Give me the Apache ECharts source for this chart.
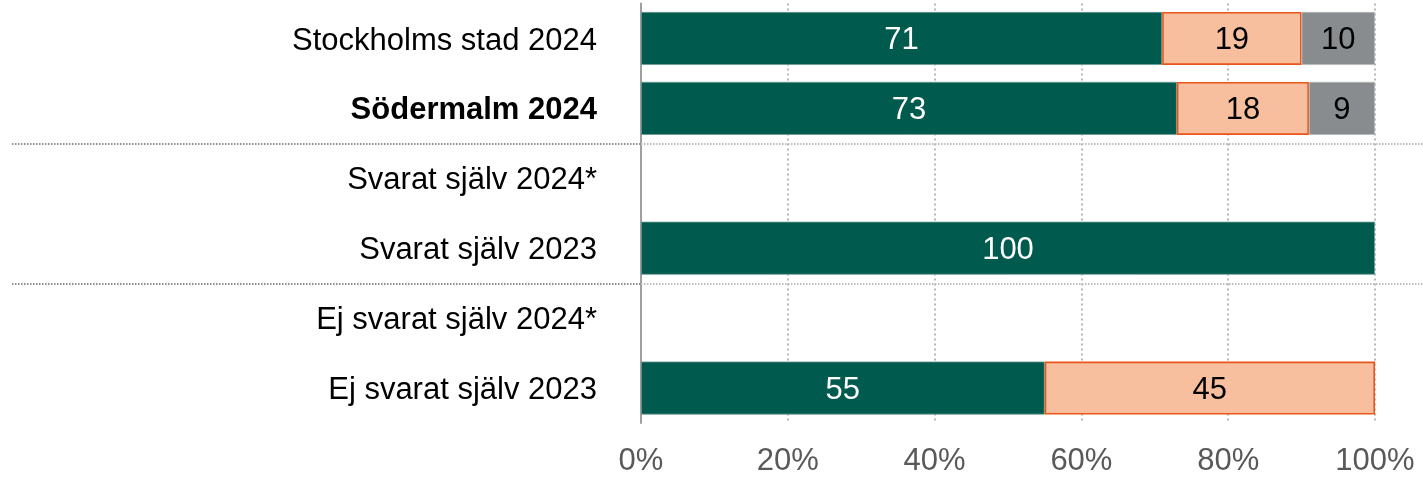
<!DOCTYPE html>
<html>
<head>
<meta charset="utf-8">
<script src="https://cdn.jsdelivr.net/npm/echarts@6/dist/echarts.min.js"></script>
<style>
  html, body { margin: 0; padding: 0; background: #fff; }
  #chart { width: 1423px; height: 477px; }
</style>
</head>
<body>
<div id="chart"></div>
<script>
// Response groups, top to bottom
const categories = [
  'Stockholms stad 2024',
  'Södermalm 2024',
  'Svarat själv 2024*',
  'Svarat själv 2023',
  'Ej svarat själv 2024*',
  'Ej svarat själv 2023'
];
const boldCategory = 'Södermalm 2024';

// Shares in percent (stacked to 100)
const greenValues = [71, 73, null, 100, null, 55];
const orangeValues = [19, 18, null, null, null, 45];
const greyValues = [10, 9, null, null, null, null];

const tickLabels = ['0%', '20%', '40%', '60%', '80%', '100%'];

// Separators sit between these category pairs
const separatorAfter = [1, 3];

const FONT = "'Liberation Sans', Arial, sans-serif";

const chart = echarts.init(document.getElementById('chart'));

function labelStyle(color) {
  return {
    show: true,
    position: 'inside',
    offset: [0, 2],
    color: color,
    fontSize: 31,
    fontFamily: FONT,
    formatter: p => (p.value == null || p.value === 0) ? '' : String(p.value)
  };
}

chart.setOption({
  animation: false,
  grid: { left: 641, right: 48, top: 3.5, bottom: 53.5 },
  xAxis: {
    type: 'value',
    min: 0,
    max: 100,
    interval: 20,
    axisLine: { show: false },
    axisTick: { show: false },
    axisLabel: {
      margin: 23,
      color: '#595959',
      fontSize: 31,
      fontFamily: FONT,
      formatter: v => tickLabels[Math.round(v / 20)]
    },
    splitLine: {
      show: true,
      lineStyle: { color: '#b8b8b8', width: 2, type: [2, 3] }
    }
  },
  yAxis: {
    type: 'category',
    data: categories,
    inverse: true,
    axisLine: { show: true, lineStyle: { color: '#a0a0a0', width: 2 } },
    axisTick: { show: false },
    axisLabel: {
      margin: 44,
      padding: [5, 0, 0, 0],
      color: '#000',
      fontSize: 31,
      fontFamily: FONT,
      formatter: v => v === boldCategory ? '{b|' + v + '}' : v,
      rich: {
        b: { fontWeight: 'bold', fontSize: 31, fontFamily: FONT, color: '#000' }
      }
    }
  },
  series: [
    {
      name: 'green',
      type: 'bar',
      stack: 'total',
      barWidth: 53,
      data: greenValues,
      itemStyle: { color: '#005A4E', borderColor: '#6f9c94', borderWidth: 0.8 },
      label: labelStyle('#ffffff')
    },
    {
      name: 'orange',
      type: 'bar',
      stack: 'total',
      barWidth: 53,
      data: orangeValues,
      itemStyle: { color: '#F8BF9E', borderColor: '#E8561A', borderWidth: 1.6 },
      label: labelStyle('#000000')
    },
    {
      name: 'grey',
      type: 'bar',
      stack: 'total',
      barWidth: 53,
      data: greyValues,
      itemStyle: { color: '#898C8E', borderColor: '#b5b7b8', borderWidth: 0.8 },
      label: labelStyle('#000000')
    }
  ]
});

// Dashed group separators, placed between category bands
function drawSeparators() {
  const x0 = chart.convertToPixel({ xAxisIndex: 0 }, 0);
  const elements = [];
  separatorAfter.forEach(i => {
    const ya = chart.convertToPixel({ yAxisIndex: 0 }, categories[i]);
    const yb = chart.convertToPixel({ yAxisIndex: 0 }, categories[i + 1]);
    const y = Math.round((ya + yb) / 2) + 1;
    elements.push({
      type: 'line',
      silent: true,
      z: 10,
      shape: { x1: 12, y1: y, x2: x0, y2: y },
      style: { stroke: '#8c8c8c', lineWidth: 2, lineDash: [1.5, 1.5] }
    });
    elements.push({
      type: 'line',
      silent: true,
      z: 10,
      shape: { x1: x0, y1: y, x2: 1423, y2: y },
      style: { stroke: '#bdbdbd', lineWidth: 2, lineDash: [1.5, 1.5] }
    });
  });
  chart.setOption({ graphic: elements });
}
drawSeparators();
</script>
</body>
</html>
